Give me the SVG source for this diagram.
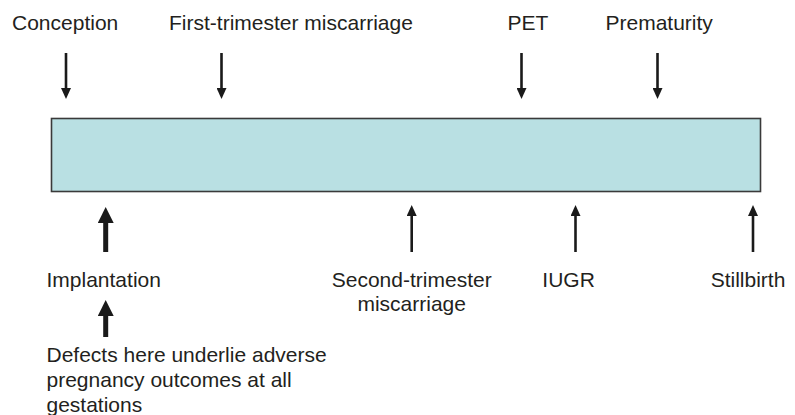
<svg xmlns="http://www.w3.org/2000/svg" width="795" height="415" viewBox="0 0 795 415">
  <style>
    text { font-family: "Liberation Sans", Arial, sans-serif; font-size: 21px; fill: #231f20; }
    .mid { text-anchor: middle; }
    .thin { stroke: #1a1a1a; stroke-width: 2.6; fill: none; }
    .thick { stroke: #1a1a1a; stroke-width: 5; fill: none; }
    .bar { fill: #b9e0e3; stroke: #3a3a3a; stroke-width: 1.6; }
  </style>
  <defs>
    <marker id="headThin" viewBox="0 0 11 10" refX="0" refY="5" markerWidth="11" markerHeight="10" markerUnits="userSpaceOnUse" orient="auto">
      <path d="M0,0 L11,5 L0,10 z" fill="#1a1a1a"/>
    </marker>
    <marker id="headThick" viewBox="0 0 16 16" refX="0" refY="8" markerWidth="16" markerHeight="16" markerUnits="userSpaceOnUse" orient="auto">
      <path d="M0,0 L16,8 L0,16 z" fill="#1a1a1a"/>
    </marker>
  </defs>

  <!-- gestation timeline bar -->
  <g id="timeline">
    <rect class="bar" x="51.5" y="118.5" width="709" height="73"/>
  </g>

  <!-- events above the bar -->
  <g id="conception"><text x="12" y="30">Conception</text></g>
  <g id="first-trimester"><text x="169" y="30">First-trimester miscarriage</text></g>
  <g id="pet"><text x="507.5" y="30">PET</text></g>
  <g id="prematurity"><text x="605.5" y="30">Prematurity</text></g>

  <!-- events below the bar -->
  <g id="implantation"><text x="46.5" y="286.5">Implantation</text></g>
  <g id="second-trimester">
    <text class="mid" x="411.7" y="286.5">Second-trimester</text>
    <text class="mid" x="411.7" y="310.5">miscarriage</text>
  </g>
  <g id="iugr"><text x="542.3" y="286.5">IUGR</text></g>
  <g id="stillbirth"><text x="710.7" y="286.5">Stillbirth</text></g>
  <g id="defects">
    <text x="46.5" y="361.5">Defects here underlie adverse</text>
    <text x="46.5" y="386.5">pregnancy outcomes at all</text>
    <text x="46.5" y="411.5">gestations</text>
  </g>

  <!-- connectors -->
  <g id="connectors">
    <line class="thin" x1="66" y1="53" x2="66" y2="88" marker-end="url(#headThin)"/>
    <line class="thin" x1="221.5" y1="53" x2="221.5" y2="88" marker-end="url(#headThin)"/>
    <line class="thin" x1="521.5" y1="53" x2="521.5" y2="88" marker-end="url(#headThin)"/>
    <line class="thin" x1="657.5" y1="53" x2="657.5" y2="88" marker-end="url(#headThin)"/>

    <line class="thick" x1="105.7" y1="252" x2="105.7" y2="223" marker-end="url(#headThick)"/>
    <line class="thick" x1="105.7" y1="337" x2="105.7" y2="316" marker-end="url(#headThick)"/>

    <line class="thin" x1="411.7" y1="252" x2="411.7" y2="216" marker-end="url(#headThin)"/>
    <line class="thin" x1="575.5" y1="252" x2="575.5" y2="216" marker-end="url(#headThin)"/>
    <line class="thin" x1="753" y1="252" x2="753" y2="216" marker-end="url(#headThin)"/>
  </g>
</svg>
